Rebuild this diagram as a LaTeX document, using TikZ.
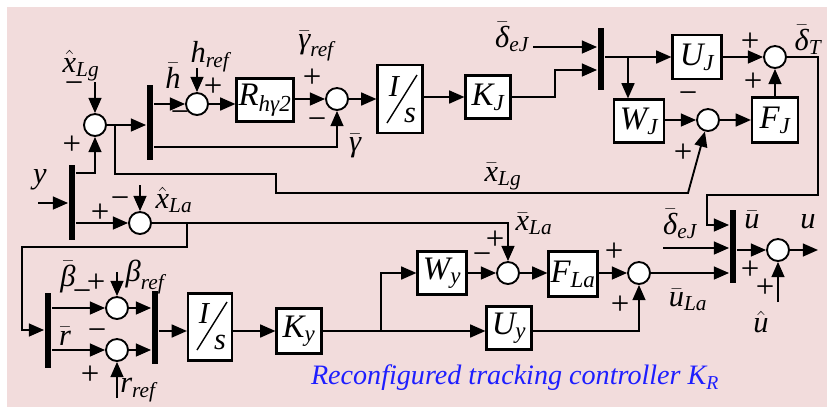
\documentclass[tikz,border=0pt]{standalone}
\usepackage{amsmath}
\usepackage{fontspec}
\setmainfont{LiberationSerif}[Extension=.ttf, UprightFont=*-Regular, ItalicFont=*-Italic, BoldFont=*-Bold, BoldItalicFont=*-BoldItalic]
\usetikzlibrary{arrows.meta}
\definecolor{bgpink}{RGB}{242,220,220}
\definecolor{capblue}{RGB}{30,30,255}
\newcommand{\itv}[1]{\text{\itshape #1}}
\tikzset{
  arr/.style={-{Triangle[length=13pt,width=11pt]}},
  blk/.style 2 args={draw, fill=white, line width=1.8pt, minimum width=#1*0.03cm,
    minimum height=#2*0.03cm, inner sep=0pt, font=\fontsize{28}{30}\selectfont},
  sumc/.style={circle, draw, fill=white, line width=1.6pt, minimum size=22*0.03cm, inner sep=0pt},
  bar/.style={fill=black, inner sep=0pt, minimum width=6*0.03cm, minimum height=#1*0.03cm},
  lab/.style={inner sep=0pt, font=\fontsize{26}{30}\selectfont},
  sgn/.style={inner sep=0pt, font=\fontsize{28}{30}\selectfont},
}

\begin{document}
\begin{tikzpicture}[x=0.03cm, y=-0.03cm, line width=1.6pt]
  \fill[bgpink] (7,7) rectangle (827,407);
  \useasboundingbox (0,0) rectangle (827,407);

  % bars
  \node[bar=75] (by) at (72,202) {};
  \node[bar=75] (b2) at (150,122) {};
  \node[bar=62] (b3) at (601,59) {};
  \node[bar=73] (b4) at (733,246) {};
  \node[bar=75] (b5) at (48,330) {};
  \node[bar=73] (b6) at (155,327) {};

  % summing junctions
  \node[sumc] (s1) at (95,125) {};
  \node[sumc] (sh) at (197,104) {};
  \node[sumc] (sg) at (337,99) {};
  \node[sumc] (sW) at (708,120) {};
  \node[sumc] (sT) at (775,57) {};
  \node[sumc] (sxa) at (140,223) {};
  \node[sumc] (sb) at (117,308) {};
  \node[sumc] (sr) at (117,350) {};
  \node[sumc] (sxL) at (508,273) {};
  \node[sumc] (sF) at (639,273) {};
  \node[sumc] (su) at (778,250) {};

  % blocks
  \node[blk={57}{43}] (R) at (265,100) {$\itv{R}_{\itv{hγ2}}$};
  \node[blk={45}{68}] (Is1) at (400,99) {};
  \node[blk={45}{43}] (KJ) at (488,97) {$\itv{K}_{\itv{J}}$};
  \node[blk={49}{44}] (UJ) at (697,57) {$\itv{U}_{\itv{J}}$};
  \node[blk={50}{43}] (WJ) at (639,121) {$\itv{W}_{\itv{J}}$};
  \node[blk={46}{45}] (FJ) at (775,120) {$\itv{F}_{\itv{J}}$};
  \node[blk={44}{67}] (Is2) at (210,327) {};
  \node[blk={45}{45}] (Ky) at (299,331) {$\itv{K}_{\itv{y}}$};
  \node[blk={49}{43}] (Wy) at (442,273) {$\itv{W}_{\itv{y}}$};
  \node[blk={45}{43}] (Uy) at (509,328) {$\itv{U}_{\itv{y}}$};
  \node[blk={49}{45}] (FLa) at (573,274) {$\itv{F}_{\itv{La}}$};

  % I/s inside the integrators
  \node[lab] (I1) at (394,87) {\itshape I};
  \node[lab] (S1) at (410,115) {\itshape s};
  \draw[line width=1.2pt] (387,123) -- (417,75);
  \node[lab] (I2) at (204,314) {\itshape I};
  \node[lab] (S2) at (220,342) {\itshape s};
  \draw[line width=1.2pt] (197,350) -- (227,302);

  % upper loop
  \coordinate (yin) at (38,203);
  \draw[arr] (yin) -- (by.west |- yin);
  \draw[arr] (by.east |- 0,173) -| (s1.south);
  \coordinate (xLgh) at (95,82);
  \draw[arr] (xLgh) -- (s1.north);
  \draw[arr] (s1.east) -- (b2.west |- s1);
  \coordinate (br1) at (115,125);
  \draw[arr] (br1) |- (276,174) |- (688,193) -- (sW.255);
  \draw[arr] (b2.east |- sh) -- (sh.west);
  \coordinate (href) at (197,68);
  \draw[arr] (href) -- (sh.north);
  \draw[arr] (sh.east) -- (R.west |- sh);
  \draw[arr] (R.east |- sg) -- (sg.west);
  \draw[arr] (b2.east |- 0,147) -| (sg.south);
  \draw[arr] (sg.east) -- (Is1.west |- sg);
  \draw[arr] (Is1.east |- KJ) -- (KJ.west);
  \draw[arr] (KJ.east) -| (555,70) -- (b3.west |- 0,70);
  \coordinate (dJin) at (533,47);
  \draw[arr] (dJin) -- (b3.west |- dJin);
  \draw[arr] (b3.east |- UJ) -- (UJ.west);
  \coordinate (br2) at (628,57);
  \draw[arr] (br2) -- (br2 |- WJ.north);
  \draw[arr] (WJ.east |- sW) -- (sW.west);
  \draw[arr] (sW.east) -- (FJ.west |- sW);
  \draw[arr] (FJ.north) -- (sT.south);
  \draw[arr] (UJ.east) -- (sT.west);
  \draw[arr] (sT.east) -| (818,195) -| (707,225) -- (b4.west |- 0,225);

  % output
  \coordinate (dJin2) at (663,248);
  \draw[arr] (dJin2) -- (b4.west |- dJin2);
  \draw[arr] (sF.east) -- (b4.west |- sF);
  \draw[arr] (b4.east |- su) -- (su.west);
  \coordinate (uout) at (818,250);
  \draw[arr] (su.east) -- (uout);
  \coordinate (uhat) at (778,302);
  \draw[arr] (uhat) -- (su.south);

  % lower loop
  \draw[arr] (by.east |- sxa) -- (sxa.west);
  \coordinate (xLah) at (140,185);
  \draw[arr] (xLah) -- (sxa.north);
  \draw[arr] (sxa.east) -| (sxL.north);
  \coordinate (br3) at (187,223);
  \draw[arr] (br3) |- (22,247) |- (b5.west);
  \draw[arr] (b5.east |- sb) -- (sb.west);
  \draw[arr] (b5.east |- sr) -- (sr.west);
  \coordinate (bref) at (117,272);
  \draw[arr] (bref) -- (sb.north);
  \coordinate (rref) at (117,398);
  \draw[arr] (rref) -- (sr.south);
  \draw[arr] (sb.east) -- (b6.west |- sb);
  \draw[arr] (sr.east) -- (b6.west |- sr);
  \draw[arr] (b6.east |- Ky) -- (Is2.west |- Ky);
  \draw[arr] (Is2.east |- Ky) -- (Ky.west);
  \draw[arr] (Ky.east) -- (Uy.west |- Ky);
  \coordinate (br4) at (381,331);
  \draw[arr] (br4) |- (Wy.west);
  \draw[arr] (Wy.east) -- (sxL.west);
  \draw[arr] (sxL.east) -- (FLa.west |- sxL);
  \draw[arr] (FLa.east |- sF) -- (sF.west);
  \draw[arr] (Uy.east |- Ky) -| (sF.south);

  % labels and signs
  \node[lab] (lxLg) at (81,66) {$\hat{\itv{x}}_{\itv{Lg}}$};
  \node[sgn] (m1) at (74,88) {−};
  \node[sgn] (p1) at (72,145) {+};
  \node[lab] (ly) at (40,180) {\itshape y};
  \node[lab] (lhb) at (173,76) {$\bar{\itv{h}}$};
  \node[sgn] (m2) at (180,117) {−};
  \node[lab] (lhref) at (210,57) {$\itv{h}_{\itv{ref}}$};
  \node[sgn] (p2) at (213,87) {+};
  \node[lab] (lgref) at (316,46) {$\bar{\itv{γ}}_{\itv{ref}}$};
  \node[sgn] (p3) at (312,78) {+};
  \node[sgn] (m3) at (317,124) {−};
  \node[lab] (lgb) at (355,146) {$\bar{\itv{γ}}$};
  \node[lab] (ldeJ) at (512,37) {$\bar{\itv{δ}}_{\itv{eJ}}$};
  \node[sgn] (p4) at (750,42) {+};
  \node[sgn] (p5) at (753,82) {+};
  \node[lab] (ldT) at (808,40) {$\bar{\itv{δ}}_{\itv{T}}$};
  \node[sgn] (m4) at (688,98) {−};
  \node[sgn] (p6) at (683,153) {+};
  \node[lab] (lxLgb) at (503,177) {$\bar{\itv{x}}_{\itv{Lg}}$};
  \node[lab] (lxLah) at (174,200) {$\hat{\itv{x}}_{\itv{La}}$};
  \node[sgn] (m5) at (120,203) {−};
  \node[sgn] (p7) at (100,213) {+};
  \node[lab] (lxLab) at (534,224) {$\bar{\itv{x}}_{\itv{La}}$};
  \node[sgn] (p8) at (495,240) {+};
  \node[sgn] (m6) at (482,259) {−};
  \node[sgn] (p9) at (614,252) {+};
  \node[sgn] (p10) at (620,305) {+};
  \node[lab] (ldeJ2) at (680,224) {$\bar{\itv{δ}}_{\itv{eJ}}$};
  \node[lab] (lub) at (752,220) {$\bar{\itv{u}}$};
  \node[lab] (lu) at (808,222) {\itshape u};
  \node[sgn] (p11) at (750,270) {+};
  \node[sgn] (p12) at (765,288) {+};
  \node[lab] (luh) at (761,322) {$\hat{\itv{u}}$};
  \node[lab] (luLa) at (688,300) {$\bar{\itv{u}}_{\itv{La}}$};
  \node[lab] (lbb) at (68,277) {$\bar{\itv{β}}$};
  \node[sgn] (m7) at (82,296) {−};
  \node[sgn] (p13) at (96,283) {+};
  \node[lab] (lbref) at (145,277) {$\itv{β}_{\itv{ref}}$};
  \node[lab] (lrb) at (65,336) {$\bar{\itv{r}}$};
  \node[sgn] (m8) at (97,335) {−};
  \node[sgn] (p14) at (90,375) {+};
  \node[lab] (lrref) at (138,390) {$\itv{r}_{\itv{ref}}$};
  \node[inner sep=0pt, text=capblue, font=\fontsize{24}{28}\selectfont\itshape] (cap) at (515,378)
    {Reconfigured tracking controller $\itv{K}_{\itv{R}}$};
\end{tikzpicture}
\end{document}
